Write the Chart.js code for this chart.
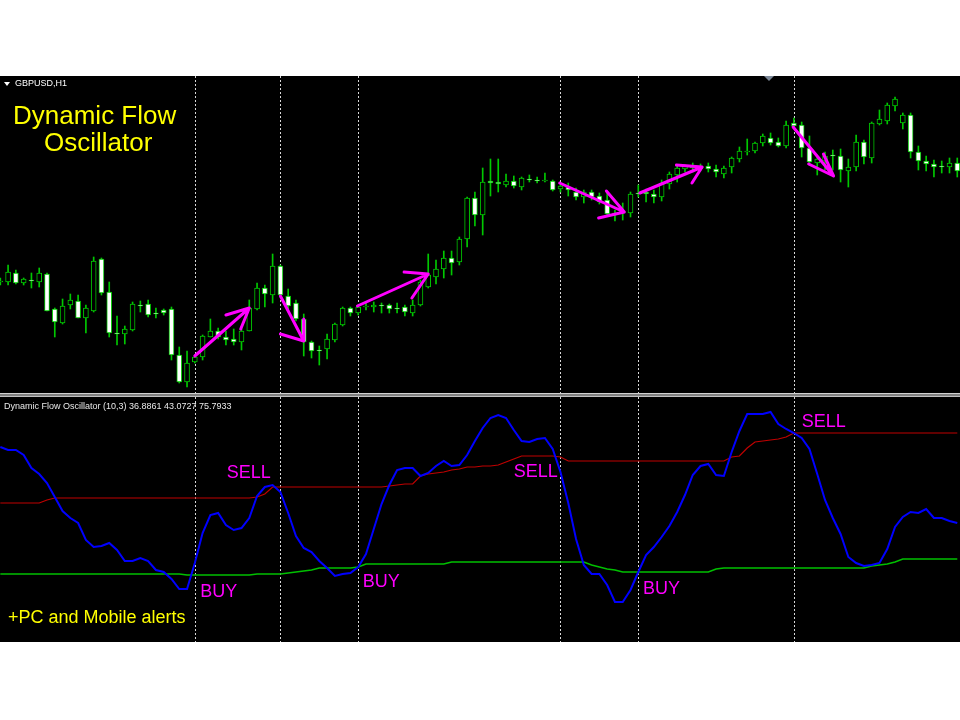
<!DOCTYPE html>
<html>
<head>
<meta charset="utf-8">
<title>Dynamic Flow Oscillator</title>
<script src="https://cdn.jsdelivr.net/npm/chart.js@4.4.1/dist/chart.umd.min.js"></script>
<style>
  body { margin: 0; background: #fff; width: 960px; height: 720px; overflow: hidden;
         font-family: "Liberation Sans", Arial, sans-serif; }
  #wrap { position: absolute; left: 0; top: 76px; width: 960px; height: 566px; background: #000; }
  #priceChart { position: absolute; left: 0; top: 0; }
  #sep { position: absolute; left: 0; top: 317px; width: 960px; height: 2px;
         border-top: 1px solid #d0d0d0; border-bottom: 1px solid #c0c0c0; background: #808080; }
  #oscChart { position: absolute; left: 0; top: 321px; }
  .txt { position: absolute; white-space: nowrap; }
  .sym { left: 15px; top: 79px; font-size: 9px; line-height: 9px; color: #fff; }
  .tri { position: absolute; left: 4px; top: 82px; width: 0; height: 0;
         border-left: 3px solid transparent; border-right: 3px solid transparent; border-top: 4px solid #fff; }
  .shift { position: absolute; left: 764px; top: 76px; width: 0; height: 0;
           border-left: 5px solid transparent; border-right: 5px solid transparent; border-top: 5px solid #7c8898; }
  .title { font-size: 26px; line-height: 26px; color: #ffff00; }
  .alerts { left: 8px; top: 608px; font-size: 18px; line-height: 18px; color: #ffff00; }
  .osc { left: 4px; top: 402px; font-size: 9px; line-height: 9px; color: #e8e8e8; }
</style>
</head>
<body>
<div id="wrap">
  <canvas id="priceChart" width="960" height="317"></canvas>
  <div id="sep"></div>
  <canvas id="oscChart" width="960" height="245"></canvas>
</div>
<div class="tri"></div>
<div class="shift"></div>
<div class="txt sym">GBPUSD,H1</div>
<div class="txt title" style="left:13px; top:102px;">Dynamic Flow</div>
<div class="txt title" style="left:44px; top:129px;">Oscillator</div>
<div class="txt alerts">+PC and Mobile alerts</div>
<div class="txt osc">Dynamic Flow Oscillator (10,3) 36.8861 43.0727 75.7933</div>
<script>
// GBPUSD H1 candles
var open = [1.3018,1.3018,1.3027,1.3017,1.3020,1.3018,1.3026,1.2991,1.2977,1.2995,
  1.2999,1.2982,1.2989,1.3041,1.3008,1.2967,1.2966,1.2970,1.2995,1.2996,
  1.2987,1.2990,1.2991,1.2945,1.2918,1.2938,1.2943,1.2963,1.2969,1.2963,
  1.2961,1.2958,1.2969,1.2991,1.3012,1.3005,1.3034,1.3004,1.2997,1.2981,
  1.2958,1.2950,1.2951,1.2960,1.2975,1.2992,1.2987,1.2993,1.2993,1.2995,
  1.2995,1.2992,1.2993,1.2987,1.2995,1.3013,1.3023,1.3031,1.3042,1.3038,
  1.3061,1.3102,1.3085,1.3119,1.3118,1.3115,1.3119,1.3113,1.3121,1.3120,
  1.3119,1.3119,1.3111,1.3113,1.3108,1.3103,1.3108,1.3104,1.3100,1.3087,
  1.3087,1.3087,1.3107,1.3108,1.3106,1.3103,1.3116,1.3125,1.3131,1.3132,
  1.3131,1.3134,1.3131,1.3126,1.3133,1.3141,1.3148,1.3149,1.3157,1.3162,
  1.3158,1.3154,1.3177,1.3175,1.3152,1.3137,1.3139,1.3145,1.3144,1.3129,
  1.3133,1.3158,1.3142,1.3176,1.3179,1.3194,1.3177,1.3185,1.3148,1.3139,
  1.3136,1.3134,1.3133,1.3137];
var high = [1.3022,1.3035,1.3030,1.3022,1.3027,1.3032,1.3027,1.2992,1.3001,1.3006,
  1.3005,1.2995,1.3043,1.3042,1.3018,1.2984,1.2974,1.2998,1.2999,1.3000,
  1.2992,1.2991,1.2993,1.2953,1.2949,1.2945,1.2965,1.2981,1.2972,1.2969,
  1.2971,1.2971,1.3000,1.3017,1.3015,1.3046,1.3035,1.3011,1.3000,1.2986,
  1.2959,1.2954,1.2966,1.2977,1.2993,1.2993,1.2995,1.2998,1.2998,1.2997,
  1.2996,1.2997,1.2995,1.3000,1.3020,1.3046,1.3040,1.3049,1.3049,1.3063,
  1.3103,1.3108,1.3132,1.3141,1.3141,1.3126,1.3124,1.3123,1.3125,1.3123,
  1.3127,1.3120,1.3117,1.3117,1.3112,1.3110,1.3110,1.3107,1.3108,1.3090,
  1.3097,1.3108,1.3115,1.3111,1.3110,1.3120,1.3128,1.3134,1.3135,1.3137,
  1.3136,1.3137,1.3135,1.3134,1.3143,1.3153,1.3161,1.3158,1.3166,1.3167,
  1.3162,1.3179,1.3182,1.3178,1.3164,1.3145,1.3148,1.3150,1.3151,1.3141,
  1.3165,1.3160,1.3178,1.3190,1.3197,1.3203,1.3187,1.3187,1.3154,1.3144,
  1.3140,1.3139,1.3142,1.3142];
var low = [1.3015,1.3015,1.3016,1.3015,1.3012,1.3013,1.2989,1.2963,1.2976,1.2991,
  1.2982,1.2967,1.2988,1.3005,1.2963,1.2955,1.2956,1.2969,1.2988,1.2983,
  1.2982,1.2985,1.2940,1.2917,1.2913,1.2937,1.2940,1.2963,1.2961,1.2955,
  1.2955,1.2950,1.2969,1.2990,1.2993,1.2997,1.3003,1.2990,1.2979,1.2944,
  1.2942,1.2935,1.2941,1.2958,1.2974,1.2984,1.2985,1.2990,1.2988,1.2987,
  1.2987,1.2987,1.2984,1.2984,1.2994,1.3012,1.3016,1.3022,1.3025,1.3035,
  1.3053,1.3074,1.3065,1.3104,1.3108,1.3113,1.3112,1.3110,1.3118,1.3117,
  1.3118,1.3109,1.3108,1.3104,1.3100,1.3097,1.3100,1.3096,1.3085,1.3079,
  1.3080,1.3083,1.3103,1.3098,1.3097,1.3099,1.3111,1.3118,1.3128,1.3128,
  1.3129,1.3128,1.3123,1.3122,1.3127,1.3138,1.3145,1.3147,1.3154,1.3155,
  1.3153,1.3152,1.3173,1.3143,1.3135,1.3125,1.3130,1.3130,1.3118,1.3113,
  1.3129,1.3136,1.3137,1.3175,1.3176,1.3189,1.3171,1.3142,1.3130,1.3129,
  1.3123,1.3127,1.3127,1.3123];
var close = [1.3018,1.3028,1.3017,1.3021,1.3019,1.3027,1.2989,1.2978,1.2994,1.3000,
  1.2982,1.2992,1.3039,1.3007,1.2967,1.2966,1.2971,1.2996,1.2994,1.2985,
  1.2986,1.2987,1.2945,1.2918,1.2937,1.2943,1.2964,1.2969,1.2963,1.2960,
  1.2958,1.2969,1.2992,1.3012,1.3006,1.3034,1.3005,1.2994,1.2981,1.2958,
  1.2949,1.2949,1.2961,1.2976,1.2992,1.2987,1.2993,1.2994,1.2995,1.2994,
  1.2991,1.2991,1.2988,1.2995,1.3018,1.3025,1.3031,1.3042,1.3037,1.3061,
  1.3102,1.3085,1.3118,1.3117,1.3116,1.3119,1.3114,1.3122,1.3120,1.3119,
  1.3120,1.3110,1.3114,1.3110,1.3103,1.3108,1.3103,1.3098,1.3086,1.3086,
  1.3089,1.3106,1.3106,1.3106,1.3103,1.3117,1.3126,1.3132,1.3134,1.3134,
  1.3134,1.3131,1.3128,1.3132,1.3142,1.3149,1.3149,1.3157,1.3164,1.3157,
  1.3154,1.3175,1.3174,1.3152,1.3138,1.3141,1.3144,1.3144,1.3130,1.3133,
  1.3158,1.3143,1.3177,1.3181,1.3195,1.3201,1.3185,1.3148,1.3139,1.3136,
  1.3133,1.3133,1.3137,1.3129];

// oscillator (10,3): main line, sell level, buy level
var flow = [78.0,76.8,76.8,74.8,69.6,67.2,63.6,58.0,52.4,49.6,
  47.6,40.8,38.0,38.4,39.6,36.8,32.4,32.4,33.6,32.4,
  28.8,28.0,25.2,21.2,21.2,31.6,43.6,50.8,51.6,46.8,
  44.8,45.6,49.6,58.4,62.0,62.8,60.0,51.6,42.4,37.6,
  36.0,32.4,29.6,26.4,27.2,27.6,30.0,35.2,45.2,55.2,
  62.8,68.8,69.6,69.6,66.4,67.6,70.4,72.4,70.4,70.8,
  74.8,80.4,85.6,89.6,90.8,89.6,84.8,80.4,80.0,81.2,
  81.6,77.2,68.0,55.6,41.2,30.8,27.2,27.2,22.8,16.0,
  16.0,20.8,28.0,34.8,38.0,42.0,46.4,52.0,58.8,66.8,
  70.4,71.2,66.8,66.4,76.0,84.4,91.2,91.2,91.2,92.0,
  87.2,85.2,83.6,81.6,77.2,67.2,56.8,49.6,43.2,34.0,
  31.6,30.4,30.8,31.6,37.2,46.0,50.0,52.0,51.6,53.2,
  49.6,49.6,48.4,47.6];
var sellLevel = [55.6,55.6,55.6,55.6,55.6,55.6,56.8,57.6,57.6,57.6,
  57.6,57.6,57.6,57.6,57.6,57.6,57.6,57.6,57.6,57.6,
  57.6,57.6,57.6,57.6,57.6,57.6,57.6,57.6,57.6,57.6,
  57.6,57.6,57.6,58.0,59.2,62.0,62.0,62.0,62.0,62.0,
  62.0,62.0,62.0,62.0,62.0,62.0,62.0,62.0,62.0,62.0,
  62.4,62.8,63.2,63.2,66.4,67.2,67.6,68.0,68.8,69.2,
  70.0,70.0,70.4,70.4,70.8,72.0,73.2,74.4,74.4,74.4,
  74.4,74.4,74.0,72.4,72.4,72.4,72.4,72.4,72.4,72.4,
  72.4,72.4,72.4,72.4,72.4,72.4,72.4,72.4,72.4,72.4,
  72.4,72.4,72.4,72.4,74.0,74.4,77.6,80.0,80.4,80.8,
  81.2,82.0,83.6,83.6,83.6,83.6,83.6,83.6,83.6,83.6,
  83.6,83.6,83.6,83.6,83.6,83.6,83.6,83.6,83.6,83.6,
  83.6,83.6,83.6,83.6];
var buyLevel = [27.2,27.2,27.2,27.2,27.2,27.2,27.2,27.2,27.2,27.2,
  27.2,27.2,27.2,27.2,27.2,27.2,27.2,27.2,27.2,27.2,
  27.2,27.2,27.2,27.2,26.8,26.8,26.8,26.8,26.8,26.8,
  26.8,26.8,26.8,27.2,27.2,27.2,27.2,27.6,28.0,28.4,
  28.8,29.6,29.6,29.6,29.6,29.6,30.0,31.2,31.2,31.2,
  31.2,31.2,31.2,31.2,31.2,31.2,31.2,31.2,32.0,32.0,
  32.0,32.0,32.0,32.0,32.0,32.0,32.0,32.0,32.0,32.0,
  32.0,32.0,32.0,32.0,32.0,32.0,30.8,30.0,29.2,28.8,
  28.0,28.0,28.0,28.0,28.0,28.0,28.0,28.0,28.0,28.0,
  28.0,28.0,29.2,29.6,29.6,29.6,29.6,29.6,29.6,29.6,
  29.6,29.6,29.6,29.6,29.6,29.6,29.6,29.6,29.6,29.6,
  29.6,29.6,30.4,30.8,31.2,32.0,33.2,33.2,33.2,33.2,
  33.2,33.2,33.2,33.2];

// signal bars (dotted verticals) and the text marks
var signalBars = [25, 36, 46, 72, 82, 102];
var labelText = ['SELL', 'SELL', 'SELL', 'BUY', 'BUY', 'BUY'];
var labelBar = [29.1, 66.0, 103.0, 25.7, 46.6, 82.6];
var labelLevel = [65.6, 66.0, 86.0, 18.0, 22.0, 19.2];

// hand drawn arrows: [startBar, startPrice, tipBar, tipPrice, headABar, headAPrice, headBBar, headBPrice]
var arrows = [
  [25.0, 1.2944, 32.0, 1.2992, 29.0, 1.2985, 30.9, 1.2971],
  [36.0, 1.3004, 39.0, 1.2959, 36.0, 1.2966, 39.0, 1.2981],
  [45.9, 1.2994, 55.0, 1.3026, 51.9, 1.3028, 52.9, 1.3002],
  [71.9, 1.3117, 80.2, 1.3088, 77.9, 1.3109, 76.9, 1.3082],
  [82.2, 1.3107, 90.2, 1.3133, 86.9, 1.3135, 88.9, 1.3117],
  [101.9, 1.3173, 107.1, 1.3124, 105.8, 1.3146, 103.9, 1.3136]
];

var candleGreen = '#00c800';
var idx = open.map(function(v, i) { return i; });

var vlines = {
  id: 'vlines',
  beforeDatasetsDraw: function(chart) {
    var ctx = chart.ctx, area = chart.chartArea, x = chart.scales.x;
    ctx.save();
    ctx.strokeStyle = '#d8d8d8';
    ctx.lineWidth = 1;
    ctx.setLineDash([2, 2]);
    signalBars.forEach(function(b) {
      var px = Math.round(x.getPixelForValue(b)) + 0.5;
      ctx.beginPath();
      ctx.moveTo(px, area.top);
      ctx.lineTo(px, area.bottom);
      ctx.stroke();
    });
    ctx.restore();
  }
};

var signalText = {
  id: 'signalText',
  afterDatasetsDraw: function(chart) {
    var ctx = chart.ctx, x = chart.scales.x, y = chart.scales.y;
    ctx.save();
    ctx.font = '18px "Liberation Sans", Arial, sans-serif';
    ctx.fillStyle = '#ff00ff';
    ctx.textAlign = 'left';
    ctx.textBaseline = 'alphabetic';
    labelText.forEach(function(t, i) {
      ctx.fillText(t, x.getPixelForValue(labelBar[i]), y.getPixelForValue(labelLevel[i]));
    });
    ctx.restore();
  }
};

var xScale = { type: 'linear', display: false, offset: false, min: -0.04, max: 123.35 };

var arrowSets = arrows.map(function(a) {
  return {
    type: 'line',
    data: [{x: a[0], y: a[1]}, {x: a[2], y: a[3]}, {x: a[4], y: a[5]}, {x: a[2], y: a[3]}, {x: a[6], y: a[7]}],
    borderColor: '#ff00ff',
    borderWidth: 3,
    borderCapStyle: 'round',
    borderJoinStyle: 'round',
    pointRadius: 0,
    fill: false,
    tension: 0,
    order: 0
  };
});

new Chart(document.getElementById('priceChart'), {
  type: 'bar',
  data: {
    datasets: [
      {
        data: idx.map(function(i) { return {x: i, y: [open[i], close[i]]}; }),
        backgroundColor: idx.map(function(i) { return open[i] > close[i] ? '#ffffff' : '#000000'; }),
        borderColor: candleGreen,
        borderWidth: 1,
        borderSkipped: false,
        barThickness: 5,
        minBarLength: 1,
        grouped: false,
        order: 1
      },
      {
        data: idx.map(function(i) { return {x: i, y: [low[i], high[i]]}; }),
        backgroundColor: candleGreen,
        barThickness: 1,
        grouped: false,
        order: 2
      }
    ].concat(arrowSets)
  },
  options: {
    responsive: false,
    animation: false,
    events: [],
    layout: { padding: 0 },
    plugins: { legend: { display: false }, tooltip: { enabled: false } },
    scales: {
      x: xScale,
      y: { display: false, min: 1.2907, max: 1.3224 }
    }
  },
  plugins: [vlines]
});

new Chart(document.getElementById('oscChart'), {
  type: 'line',
  data: {
    datasets: [
      { data: idx.map(function(i) { return {x: i, y: flow[i]}; }), borderColor: '#0000ff', borderWidth: 2, order: 0 },
      { data: idx.map(function(i) { return {x: i, y: sellLevel[i]}; }), borderColor: '#c00000', borderWidth: 1.2, order: 1 },
      { data: idx.map(function(i) { return {x: i, y: buyLevel[i]}; }), borderColor: '#00c000', borderWidth: 1.5, order: 2 }
    ]
  },
  options: {
    responsive: false,
    animation: false,
    events: [],
    layout: { padding: 0 },
    elements: { point: { radius: 0 }, line: { tension: 0, fill: false } },
    plugins: { legend: { display: false }, tooltip: { enabled: false } },
    scales: {
      x: xScale,
      y: { display: false, min: 0, max: 98 }
    }
  },
  plugins: [vlines, signalText]
});
</script>
</body>
</html>
